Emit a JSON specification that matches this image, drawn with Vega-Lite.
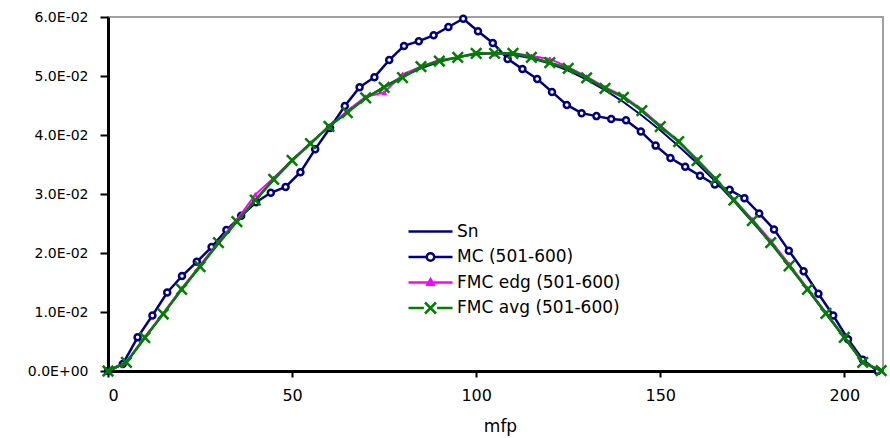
{
  "$schema": "https://vega.github.io/schema/vega-lite/v6.json",
  "width": 775,
  "height": 354,
  "autosize": {"type": "none"},
  "padding": {"left": 108, "top": 17, "right": 7, "bottom": 67},
  "background": "white",
  "config": {
    "view": {"stroke": "#a0a0a0", "strokeWidth": 2},
    "font": "DejaVu Sans",
    "axis": {"grid": false, "labelFont": "DejaVu Sans", "labelFontSize": 16, "labelColor": "black", "domainColor": "black", "domainWidth": 3, "tickColor": "black", "tickWidth": 2, "titleFont": "DejaVu Sans", "titleFontSize": 17, "titleFontWeight": "normal", "titleColor": "black"}
  },
  "datasets": {
    "curves": [
      {"series": "Sn", "x": 0, "y": 0}, {"series": "Sn", "x": 5, "y": 0.0014}, {"series": "Sn", "x": 10, "y": 0.0056}, {"series": "Sn", "x": 15, "y": 0.0097}, {"series": "Sn", "x": 20, "y": 0.0138}, {"series": "Sn", "x": 25, "y": 0.0177}, {"series": "Sn", "x": 30, "y": 0.0216}, {"series": "Sn", "x": 35, "y": 0.0253}, {"series": "Sn", "x": 40, "y": 0.0289}, {"series": "Sn", "x": 45, "y": 0.0324}, {"series": "Sn", "x": 50, "y": 0.0356}, {"series": "Sn", "x": 55, "y": 0.0386}, {"series": "Sn", "x": 60, "y": 0.0414}, {"series": "Sn", "x": 65, "y": 0.0439}, {"series": "Sn", "x": 70, "y": 0.0462}, {"series": "Sn", "x": 75, "y": 0.0482}, {"series": "Sn", "x": 80, "y": 0.0499}, {"series": "Sn", "x": 85, "y": 0.0513}, {"series": "Sn", "x": 90, "y": 0.0524}, {"series": "Sn", "x": 95, "y": 0.0532}, {"series": "Sn", "x": 100, "y": 0.0537}, {"series": "Sn", "x": 105, "y": 0.0538}, {"series": "Sn", "x": 110, "y": 0.0536}, {"series": "Sn", "x": 115, "y": 0.053}, {"series": "Sn", "x": 120, "y": 0.0521}, {"series": "Sn", "x": 125, "y": 0.0509}, {"series": "Sn", "x": 130, "y": 0.0494}, {"series": "Sn", "x": 135, "y": 0.0476}, {"series": "Sn", "x": 140, "y": 0.0456}, {"series": "Sn", "x": 145, "y": 0.0433}, {"series": "Sn", "x": 150, "y": 0.0408}, {"series": "Sn", "x": 155, "y": 0.0381}, {"series": "Sn", "x": 160, "y": 0.0352}, {"series": "Sn", "x": 165, "y": 0.0321}, {"series": "Sn", "x": 170, "y": 0.0288}, {"series": "Sn", "x": 175, "y": 0.0253}, {"series": "Sn", "x": 180, "y": 0.0217}, {"series": "Sn", "x": 185, "y": 0.0178}, {"series": "Sn", "x": 190, "y": 0.0138}, {"series": "Sn", "x": 195, "y": 0.0097}, {"series": "Sn", "x": 200, "y": 0.0056}, {"series": "Sn", "x": 205, "y": 0.0015}, {"series": "Sn", "x": 210, "y": 0},

      {"series": "MC (501-600)", "x": 0, "y": 0}, {"series": "MC (501-600)", "x": 4.02, "y": 0.0012}, {"series": "MC (501-600)", "x": 8.04, "y": 0.0057}, {"series": "MC (501-600)", "x": 12.06, "y": 0.0094}, {"series": "MC (501-600)", "x": 16.08, "y": 0.0133}, {"series": "MC (501-600)", "x": 20.1, "y": 0.0161}, {"series": "MC (501-600)", "x": 24.12, "y": 0.0185}, {"series": "MC (501-600)", "x": 28.14, "y": 0.021}, {"series": "MC (501-600)", "x": 32.16, "y": 0.0239}, {"series": "MC (501-600)", "x": 36.18, "y": 0.0263}, {"series": "MC (501-600)", "x": 40.2, "y": 0.0286}, {"series": "MC (501-600)", "x": 44.22, "y": 0.0302}, {"series": "MC (501-600)", "x": 48.24, "y": 0.0312}, {"series": "MC (501-600)", "x": 52.26, "y": 0.0337}, {"series": "MC (501-600)", "x": 56.28, "y": 0.0376}, {"series": "MC (501-600)", "x": 60.3, "y": 0.0412}, {"series": "MC (501-600)", "x": 64.32, "y": 0.0449}, {"series": "MC (501-600)", "x": 68.34, "y": 0.0481}, {"series": "MC (501-600)", "x": 72.36, "y": 0.0498}, {"series": "MC (501-600)", "x": 76.38, "y": 0.0527}, {"series": "MC (501-600)", "x": 80.4, "y": 0.0551}, {"series": "MC (501-600)", "x": 84.42, "y": 0.0559}, {"series": "MC (501-600)", "x": 88.44, "y": 0.0569}, {"series": "MC (501-600)", "x": 92.46, "y": 0.0583}, {"series": "MC (501-600)", "x": 96.48, "y": 0.0597}, {"series": "MC (501-600)", "x": 100.5, "y": 0.0576}, {"series": "MC (501-600)", "x": 104.52, "y": 0.0556}, {"series": "MC (501-600)", "x": 108.54, "y": 0.0529}, {"series": "MC (501-600)", "x": 112.56, "y": 0.0512}, {"series": "MC (501-600)", "x": 116.58, "y": 0.0495}, {"series": "MC (501-600)", "x": 120.6, "y": 0.0473}, {"series": "MC (501-600)", "x": 124.62, "y": 0.0451}, {"series": "MC (501-600)", "x": 128.64, "y": 0.0437}, {"series": "MC (501-600)", "x": 132.66, "y": 0.0432}, {"series": "MC (501-600)", "x": 136.68, "y": 0.0427}, {"series": "MC (501-600)", "x": 140.7, "y": 0.0425}, {"series": "MC (501-600)", "x": 144.72, "y": 0.0406}, {"series": "MC (501-600)", "x": 148.74, "y": 0.0382}, {"series": "MC (501-600)", "x": 152.76, "y": 0.0361}, {"series": "MC (501-600)", "x": 156.78, "y": 0.0346}, {"series": "MC (501-600)", "x": 160.8, "y": 0.0331}, {"series": "MC (501-600)", "x": 164.82, "y": 0.0316}, {"series": "MC (501-600)", "x": 168.84, "y": 0.0307}, {"series": "MC (501-600)", "x": 172.86, "y": 0.0293}, {"series": "MC (501-600)", "x": 176.88, "y": 0.0267}, {"series": "MC (501-600)", "x": 180.9, "y": 0.024}, {"series": "MC (501-600)", "x": 184.92, "y": 0.0204}, {"series": "MC (501-600)", "x": 188.94, "y": 0.0169}, {"series": "MC (501-600)", "x": 192.96, "y": 0.0131}, {"series": "MC (501-600)", "x": 196.98, "y": 0.0094}, {"series": "MC (501-600)", "x": 201, "y": 0.0054}, {"series": "MC (501-600)", "x": 205.02, "y": 0.0019}, {"series": "MC (501-600)", "x": 209.04, "y": 0},

      {"series": "FMC edg (501-600)", "x": 0, "y": 0}, {"series": "FMC edg (501-600)", "x": 5, "y": 0.0015}, {"series": "FMC edg (501-600)", "x": 10, "y": 0.0058}, {"series": "FMC edg (501-600)", "x": 15, "y": 0.0098}, {"series": "FMC edg (501-600)", "x": 20, "y": 0.014}, {"series": "FMC edg (501-600)", "x": 25, "y": 0.0179}, {"series": "FMC edg (501-600)", "x": 30, "y": 0.0219}, {"series": "FMC edg (501-600)", "x": 35, "y": 0.0256}, {"series": "FMC edg (501-600)", "x": 40, "y": 0.0299}, {"series": "FMC edg (501-600)", "x": 45, "y": 0.0327}, {"series": "FMC edg (501-600)", "x": 50, "y": 0.0358}, {"series": "FMC edg (501-600)", "x": 55, "y": 0.0387}, {"series": "FMC edg (501-600)", "x": 60, "y": 0.0413}, {"series": "FMC edg (501-600)", "x": 65, "y": 0.0441}, {"series": "FMC edg (501-600)", "x": 70, "y": 0.0465}, {"series": "FMC edg (501-600)", "x": 75, "y": 0.0472}, {"series": "FMC edg (501-600)", "x": 80, "y": 0.0503}, {"series": "FMC edg (501-600)", "x": 85, "y": 0.0516}, {"series": "FMC edg (501-600)", "x": 90, "y": 0.0527}, {"series": "FMC edg (501-600)", "x": 95, "y": 0.0531}, {"series": "FMC edg (501-600)", "x": 100, "y": 0.0539}, {"series": "FMC edg (501-600)", "x": 105, "y": 0.0537}, {"series": "FMC edg (501-600)", "x": 110, "y": 0.0539}, {"series": "FMC edg (501-600)", "x": 115, "y": 0.0534}, {"series": "FMC edg (501-600)", "x": 120, "y": 0.0529}, {"series": "FMC edg (501-600)", "x": 125, "y": 0.0515}, {"series": "FMC edg (501-600)", "x": 130, "y": 0.0499}, {"series": "FMC edg (501-600)", "x": 135, "y": 0.0481}, {"series": "FMC edg (501-600)", "x": 140, "y": 0.0466}, {"series": "FMC edg (501-600)", "x": 145, "y": 0.0443}, {"series": "FMC edg (501-600)", "x": 150, "y": 0.0416}, {"series": "FMC edg (501-600)", "x": 155, "y": 0.039}, {"series": "FMC edg (501-600)", "x": 160, "y": 0.0359}, {"series": "FMC edg (501-600)", "x": 165, "y": 0.0327}, {"series": "FMC edg (501-600)", "x": 170, "y": 0.0291}, {"series": "FMC edg (501-600)", "x": 175, "y": 0.0257}, {"series": "FMC edg (501-600)", "x": 180, "y": 0.0221}, {"series": "FMC edg (501-600)", "x": 185, "y": 0.0181}, {"series": "FMC edg (501-600)", "x": 190, "y": 0.014}, {"series": "FMC edg (501-600)", "x": 195, "y": 0.0099}, {"series": "FMC edg (501-600)", "x": 200, "y": 0.0058}, {"series": "FMC edg (501-600)", "x": 205, "y": 0.0015}, {"series": "FMC edg (501-600)", "x": 210, "y": 0},

      {"series": "FMC avg (501-600)", "x": 0, "y": 0}, {"series": "FMC avg (501-600)", "x": 5, "y": 0.00147}, {"series": "FMC avg (501-600)", "x": 10, "y": 0.00564}, {"series": "FMC avg (501-600)", "x": 15, "y": 0.00966}, {"series": "FMC avg (501-600)", "x": 20, "y": 0.01385}, {"series": "FMC avg (501-600)", "x": 25, "y": 0.01768}, {"series": "FMC avg (501-600)", "x": 30, "y": 0.02175}, {"series": "FMC avg (501-600)", "x": 35, "y": 0.02531}, {"series": "FMC avg (501-600)", "x": 40, "y": 0.02898}, {"series": "FMC avg (501-600)", "x": 45, "y": 0.03249}, {"series": "FMC avg (501-600)", "x": 50, "y": 0.03571}, {"series": "FMC avg (501-600)", "x": 55, "y": 0.03853}, {"series": "FMC avg (501-600)", "x": 60, "y": 0.04147}, {"series": "FMC avg (501-600)", "x": 65, "y": 0.04378}, {"series": "FMC avg (501-600)", "x": 70, "y": 0.04631}, {"series": "FMC avg (501-600)", "x": 75, "y": 0.04808}, {"series": "FMC avg (501-600)", "x": 80, "y": 0.04971}, {"series": "FMC avg (501-600)", "x": 85, "y": 0.05158}, {"series": "FMC avg (501-600)", "x": 90, "y": 0.05254}, {"series": "FMC avg (501-600)", "x": 95, "y": 0.05317}, {"series": "FMC avg (501-600)", "x": 100, "y": 0.05385}, {"series": "FMC avg (501-600)", "x": 105, "y": 0.05385}, {"series": "FMC avg (501-600)", "x": 110, "y": 0.05385}, {"series": "FMC avg (501-600)", "x": 115, "y": 0.05317}, {"series": "FMC avg (501-600)", "x": 120, "y": 0.05225}, {"series": "FMC avg (501-600)", "x": 125, "y": 0.05131}, {"series": "FMC avg (501-600)", "x": 130, "y": 0.0497}, {"series": "FMC avg (501-600)", "x": 135, "y": 0.04792}, {"series": "FMC avg (501-600)", "x": 140, "y": 0.04639}, {"series": "FMC avg (501-600)", "x": 145, "y": 0.04412}, {"series": "FMC avg (501-600)", "x": 150, "y": 0.04141}, {"series": "FMC avg (501-600)", "x": 155, "y": 0.03886}, {"series": "FMC avg (501-600)", "x": 160, "y": 0.03564}, {"series": "FMC avg (501-600)", "x": 165, "y": 0.03254}, {"series": "FMC avg (501-600)", "x": 170, "y": 0.02898}, {"series": "FMC avg (501-600)", "x": 175, "y": 0.02547}, {"series": "FMC avg (501-600)", "x": 180, "y": 0.02175}, {"series": "FMC avg (501-600)", "x": 185, "y": 0.0178}, {"series": "FMC avg (501-600)", "x": 190, "y": 0.01385}, {"series": "FMC avg (501-600)", "x": 195, "y": 0.00978}, {"series": "FMC avg (501-600)", "x": 200, "y": 0.00571}, {"series": "FMC avg (501-600)", "x": 205, "y": 0.00147}, {"series": "FMC avg (501-600)", "x": 210, "y": 0.00005}
    ]
  },
  "data": {"name": "curves"},
  "encoding": {
    "x": {"field": "x", "type": "quantitative", "scale": {"domain": [0, 210.5], "nice": false, "zero": false},
      "axis": {"title": "mfp", "values": [0, 50, 100, 150, 200], "tickSize": 6, "labelPadding": 10, "titlePadding": 15, "titleX": 392}},
    "y": {"field": "y", "type": "quantitative", "scale": {"domain": [0, 0.06], "nice": false},
      "axis": {"title": null, "values": [0, 0.01, 0.02, 0.03, 0.04, 0.05, 0.06], "tickSize": 8, "labelPadding": 12, "labelFontSize": 14,
        "labelExpr": "datum.value == 0 ? '0.0E+00' : format(datum.value * 100, '.1f') + 'E-02'"}}
  },
  "layer": [
    {"transform": [{"filter": "datum.series == 'Sn'"}],
      "mark": {"type": "line", "color": "#000080", "strokeWidth": 2}},
    {"transform": [{"filter": "datum.series == 'MC (501-600)'"}],
      "mark": {"type": "line", "color": "#000080", "strokeWidth": 2.5}},
    {"transform": [{"filter": "datum.series == 'MC (501-600)'"}],
      "mark": {"type": "point", "shape": "circle", "size": 36, "fill": "white", "stroke": "#000080", "strokeWidth": 2.5, "opacity": 1, "filled": true}},
    {"transform": [{"filter": "datum.series == 'FMC edg (501-600)'"}],
      "mark": {"type": "line", "color": "#ff00ff", "strokeWidth": 2}},
    {"transform": [{"filter": "datum.series == 'FMC edg (501-600)'"}],
      "mark": {"type": "point", "shape": "triangle-up", "size": 20, "fill": "#ff00ff", "stroke": "#ff00ff", "strokeWidth": 1, "opacity": 1, "filled": true}},
    {"transform": [{"filter": "datum.series == 'FMC avg (501-600)'"}],
      "mark": {"type": "line", "color": "#008000", "strokeWidth": 2.5}},
    {"transform": [{"filter": "datum.series == 'FMC avg (501-600)'"}],
      "mark": {"type": "point", "shape": "M-1,-1L1,1M-1,1L1,-1", "size": 110, "filled": false, "stroke": "#008000", "strokeWidth": 2.5, "opacity": 1}},
    {"transform": [{"filter": "datum.y > 1"}],
      "mark": {"type": "point", "filled": false, "opacity": 1},
      "encoding": {
        "color": {"field": "series", "type": "nominal",
          "scale": {"domain": ["Sn", "MC (501-600)", "FMC edg (501-600)", "FMC avg (501-600)"], "range": ["#000080", "#000080", "#ff00ff", "#008000"]},
          "legend": {"orient": "none", "legendX": 299, "legendY": 202, "title": null, "symbolSize": 1936, "clipHeight": 25, "rowPadding": 0.5, "padding": 0, "symbolStrokeWidth": 2.5, "labelFont": "DejaVu Sans", "labelFontSize": 17, "labelColor": "black", "labelOffset": 3, "labelLimit": 300}},
        "shape": {"field": "series", "type": "nominal",
          "scale": {"domain": ["Sn", "MC (501-600)", "FMC edg (501-600)", "FMC avg (501-600)"],
            "range": ["M-1,0L1,0", "M-1,0L-0.17,0M0.17,0L1,0M-0.17,0A0.17,0.17,0,1,0,0.17,0A0.17,0.17,0,1,0,-0.17,0", "M-1,0L1,0M0,-0.15L0.14,0.1L-0.14,0.1Z", "M-1,0L-0.3,0M0.3,0L1,0M-0.25,-0.25L0.25,0.25M-0.25,0.25L0.25,-0.25"]},
          "legend": {"orient": "none", "legendX": 299, "legendY": 202, "title": null, "symbolSize": 1936, "clipHeight": 25, "rowPadding": 0.5, "padding": 0, "symbolStrokeWidth": 2.5, "labelFont": "DejaVu Sans", "labelFontSize": 17, "labelColor": "black", "labelOffset": 3, "labelLimit": 300}}
      }}
  ]
}
